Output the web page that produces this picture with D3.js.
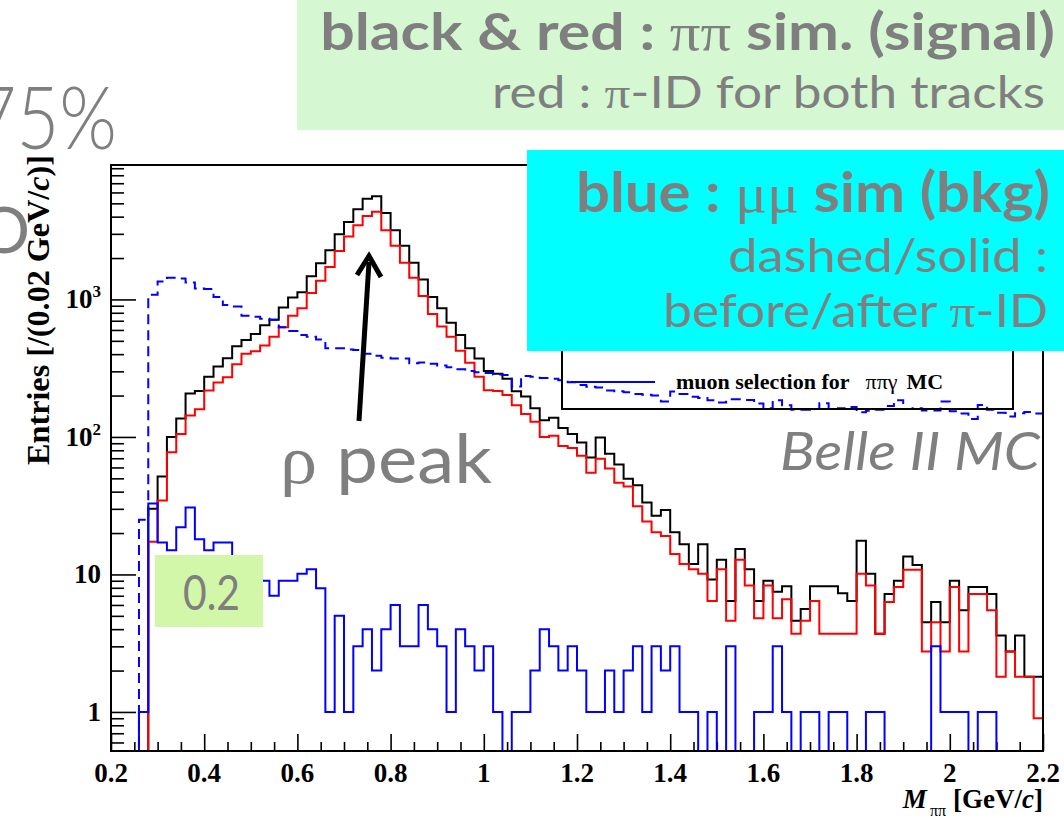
<!DOCTYPE html>
<html><head><meta charset="utf-8">
<script src="https://cdn.jsdelivr.net/npm/d3@7"></script>
<style>body{margin:0;background:#fff}svg{display:block}</style>
</head><body>
<script>
// ---------------- data ----------------
const binLowEdges = d3.range(100).map(i => +(0.2 + 0.02 * i).toFixed(2));
const binWidth = 0.02;
// black: pi pi simulation (signal), no pi-ID
const signalAll = [0,0,0,0,30,51.5,100,136,207,216,274,325,374,456,508,560,650,
 713,874,1032,1129,1476,1833,2277,2976,3650,4536,5388,5636,4253,3192,2459,1846,1394,1040,
 864,678,552,442,372,302,288,265,215,197,162,132,138,116,105,91,71,
 99,75.5,63,49.6,44.5,33.4,26.7,29.4,20.3,16.6,11.9,16.6,9.2,12.8,6.4,15.3,10.9,
 6.4,9.0,7.5,8.2,4.6,5.6,8.2,8.2,8.2,7.3,6.4,17.6,10.1,3.7,
 7.2,9.0,13.5,11.7,4.5,6.3,4.5,9.0,5.5,8.1,8.1,7.2,3.6,2.75,3.6,1.8,1.8];
// red: pi-ID for both tracks
const signalPiID = [0,0,0,0,17.3,34.5,77.5,105,143,159,218,249,272,338,402,420,462,
 535,628,760,864,1114,1367,1720,2249,2866,3469,4044,4335,3192,2459,1846,1439,1059,785,
 636,535,423,347,274,219,216,202,170,147,129,100,102,86,83,73,55,
 69.5,59,46.5,43.6,31.3,24.3,20.3,19,14.1,11.9,10.9,10.1,6.4,10.9,4.6,12.8,8.3,
 4.8,8.3,4.8,6.6,3.7,4.6,6.4,3.7,3.7,3.7,3.7,10.1,8.3,3.7,
 6.3,8.1,10.8,10.8,2.75,4.5,2.75,8.1,2.75,7.2,7.2,5.5,1.8,2.75,1.8,1.8,0.9];
// blue dashed: mu mu simulation before pi-ID
const muonAll = [0,0,0,25,1080,1350,1440,1420,1330,1200,1190,1040,910,890,760,748,725,
 713,628,589,552,535,512,442,442,433,428,402,389,377,372,372,343,348,340,
 331,321,311,302,296,292,285,282,233,278,274,268,265,258,250,239,232,
 229,218,215,211,205,203,200,181,214,205,196,192,185,178,188,188,186,
 175,162,185,170,158,158,160,176,160,162,165,151,155,158,
 168,185,160,162,156,156,181,154,148,135,171,158,150,141,149,152,148];
// blue solid: mu mu simulation after pi-ID
const muonPiID = [0,0,0,1,32.8,17.1,15,22,30.7,18,15,17.1,17.1,9,9,9,9,
 7,9,9,10.1,10.9,7.95,1,5,1,3,4,2,4,6,3,3,6,4,
 3,1,4,3,2,3,1,0,1,1,2,4,3,2,3,2,1,
 1,2,1,2,3,1,3,2,3,1,1,0,1,0,3,0,0,
 1,1,3,1,0,1,1,0,1,1,0,0,1,1,
 0,0,0,0,0,3,1,1,1,0,1,1,0,0,0,0,0];
const xTickValues = [0.2,0.4,0.6,0.8,1.0,1.2,1.4,1.6,1.8,2.0,2.2];
const xTickLabels = ["0.2","0.4","0.6","0.8","1","1.2","1.4","1.6","1.8","2","2.2"];
const yTickValues = [1,10,100,1000];
const yTickBase = ["1","10","10","10"];
const yTickExp = ["","","2","3"];

// ---------------- setup ----------------
const W = 1064, H = 818;
const svg = d3.select("body").append("svg").attr("width", W).attr("height", H);
const x = d3.scaleLinear().domain([0.2, 2.2]).range([111, 1043]);
const y = d3.scaleLog().domain([0.52, 9500]).range([751, 165]);
const yMin = y.domain()[0];
const serif = "'Liberation Serif','Times New Roman',serif";
const sans = "Lato,'Open Sans',sans-serif";
const gray = "#7f7f7f";

// ticks
const xMinor = d3.range(0.2, 2.2001, 0.05).filter(v => Math.abs(Math.round(v / 0.2) * 0.2 - v) > 1e-6);
const yMinor = [];
[-1,0,1,2,3].forEach(d => { for (let k = 2; k <= 9; k++) { const v = k * Math.pow(10, d); if (v > yMin && v < 9500) yMinor.push(v); } });

function styleAxis(g) { g.select(".domain").remove(); g.selectAll("line").attr("stroke", "#000").attr("stroke-width", 1.6); }
svg.append("g").attr("transform", "translate(0,751)").call(d3.axisBottom(x).tickValues(xTickValues).tickSize(-17).tickFormat("")).call(styleAxis);
svg.append("g").attr("transform", "translate(0,751)").call(d3.axisBottom(x).tickValues(xMinor).tickSize(-9).tickFormat("")).call(styleAxis);
svg.append("g").attr("transform", "translate(111,0)").call(d3.axisLeft(y).tickValues(yTickValues).tickSize(-25).tickFormat("")).call(styleAxis);
svg.append("g").attr("transform", "translate(111,0)").call(d3.axisLeft(y).tickValues(yMinor).tickSize(-13).tickFormat("")).call(styleAxis);

// ---------------- histograms ----------------
function histPath(values) {
  const pts = [];
  values.forEach((v, i) => {
    const vv = v > yMin ? v : yMin;
    pts.push([x(binLowEdges[i]), y(vv)]);
    pts.push([x(binLowEdges[i] + binWidth), y(vv)]);
  });
  return d3.line()(pts);
}
const plot = svg.append("g");
plot.append("path").attr("d", histPath(signalAll)).attr("fill", "none").attr("stroke", "#000").attr("stroke-width", 2);
plot.append("path").attr("d", histPath(signalPiID)).attr("fill", "none").attr("stroke", "#ff0000").attr("stroke-width", 2);
plot.append("path").attr("d", histPath(muonAll)).attr("fill", "none").attr("stroke", "#0000ff").attr("stroke-width", 2).attr("stroke-dasharray", "10,6");
plot.append("path").attr("d", histPath(muonPiID)).attr("fill", "none").attr("stroke", "#0000ff").attr("stroke-width", 2);

// frame
svg.append("rect").attr("x", 111).attr("y", 165).attr("width", 932).attr("height", 586)
  .attr("fill", "none").attr("stroke", "#000").attr("stroke-width", 2);

// tick labels
svg.append("g").selectAll("text").data(xTickValues).join("text")
  .attr("x", d => x(d)).attr("y", 782).attr("text-anchor", "middle")
  .attr("font-family", serif).attr("font-weight", "bold").attr("font-size", 27)
  .text((d, i) => xTickLabels[i]);
const yl = svg.append("g").selectAll("text").data(yTickValues).join("text")
  .attr("x", 101).attr("y", d => y(d) + 9).attr("text-anchor", "end")
  .attr("font-family", serif).attr("font-weight", "bold").attr("font-size", 27);
yl.append("tspan").text((d, i) => yTickBase[i]);
yl.append("tspan").attr("font-size", 17).attr("dy", -11).text((d, i) => yTickExp[i]);

// axis titles
function fit(sel, target) {
  const n = sel.node(); const fs = parseFloat(sel.attr("font-size"));
  const len = n.getComputedTextLength();
  if (len > 0) sel.attr("font-size", fs * target / len);
  return sel;
}
const yt = svg.append("text").attr("transform", "translate(49,155) rotate(-90)").attr("text-anchor", "end")
  .attr("font-family", serif).attr("font-weight", "bold").attr("font-size", 24);
yt.append("tspan").text("Entries [/(0.02 GeV/");
yt.append("tspan").attr("font-style", "italic").text("c");
yt.append("tspan").text(")]");
fit(yt, 310);

const xt = svg.append("text").attr("x", 1043).attr("y", 808).attr("text-anchor", "end")
  .attr("font-family", serif).attr("font-weight", "bold").attr("font-size", 27);
xt.append("tspan").attr("font-style", "italic").text("M");
xt.append("tspan").attr("font-size", 16).attr("font-weight", "normal").attr("dx", 3).attr("dy", 8).text("ππ");
xt.append("tspan").attr("dy", -8).attr("dx", 7).text("[GeV/");
xt.append("tspan").attr("font-style", "italic").text("c");
xt.append("tspan").text("]");

// legend
svg.append("rect").attr("x", 562).attr("y", 320).attr("width", 451).attr("height", 89)
  .attr("fill", "none").attr("stroke", "#000").attr("stroke-width", 2);
svg.append("line").attr("x1", 570).attr("x2", 655).attr("y1", 382).attr("y2", 382).attr("stroke", "#0000ff").attr("stroke-width", 2);
const lt = svg.append("text").attr("x", 676).attr("y", 389).attr("font-family", serif).attr("font-weight", "bold").attr("font-size", 22);
lt.append("tspan").text("muon selection for");
lt.append("tspan").attr("font-weight", "normal").attr("dx", 16).text("ππγ");
lt.append("tspan").attr("dx", 9).text("MC");

// ---------------- slide annotations ----------------
svg.append("rect").attr("x", 297).attr("y", 0).attr("width", 767).attr("height", 130).attr("fill", "#d5f8d3");
svg.append("rect").attr("x", 527).attr("y", 150).attr("width", 537).attr("height", 201).attr("fill", "#00ffff");
svg.append("rect").attr("x", 155).attr("y", 555).attr("width", 108).attr("height", 72).attr("fill", "#d3f7a9");

function slideText(parts, xr, yb, width, opts) {
  const g = svg.append("g").attr("transform", `translate(${xr},${yb}) scale(1,${opts.sy || 1})`);
  const t = g.append("text").attr("x", 0).attr("y", 0).attr("text-anchor", opts.anchor || "end")
    .attr("font-family", sans).attr("font-size", 40).attr("fill", gray)
    .attr("font-weight", opts.weight || "normal").attr("font-style", opts.italic ? "italic" : "normal");
  parts.forEach(p => {
    const s = t.append("tspan").text(p.t);
    if (p.serif) s.attr("font-family", serif).attr("font-weight", "normal");
  });
  if (width) fit(t, width);
  return t;
}
slideText([{t:"black & red : "},{t:"ππ",serif:true},{t:" sim. (signal)"}], 1055, 50, 735, {weight:"bold", sy:0.86});
slideText([{t:"red : "},{t:"π",serif:true},{t:"-ID for both tracks"}], 1045, 108, 553, {sy:0.87});
slideText([{t:"blue : "},{t:"μμ",serif:true},{t:" sim (bkg)"}], 1050, 212, 474, {weight:"bold", sy:0.93});
slideText([{t:"dashed/solid :"}], 1048, 272, 320, {sy:0.88});
slideText([{t:"before/after "},{t:"π",serif:true},{t:"-ID"}], 1048, 327, 385, {sy:0.92});
slideText([{t:"ρ",serif:true},{t:" peak"}], 492, 483, 212, {sy:0.9});
slideText([{t:"Belle II MC"}], 1040, 470, 260, {italic:true, sy:0.9});
slideText([{t:"0.2"}], 240, 610, 57, {sy:1.2});
svg.append("g").attr("transform", "translate(117,149) scale(1,1.17)")
  .append("text").attr("text-anchor", "end").attr("font-family", sans)
  .attr("font-weight", 300).attr("font-size", 74).attr("fill", gray).text("75%");
svg.append("text").attr("x", 30).attr("y", 253).attr("text-anchor", "end").attr("font-family", sans)
  .attr("font-weight", 400).attr("font-size", 64).attr("fill", gray).text("O");

// arrow
svg.append("line").attr("x1", 359).attr("y1", 421).attr("x2", 369).attr("y2", 262).attr("stroke", "#000").attr("stroke-width", 5);
svg.append("path").attr("d", "M357,275 L369,256 L381,277").attr("fill", "none").attr("stroke", "#000").attr("stroke-width", 5).attr("stroke-linejoin", "miter");
</script>
</body></html>
